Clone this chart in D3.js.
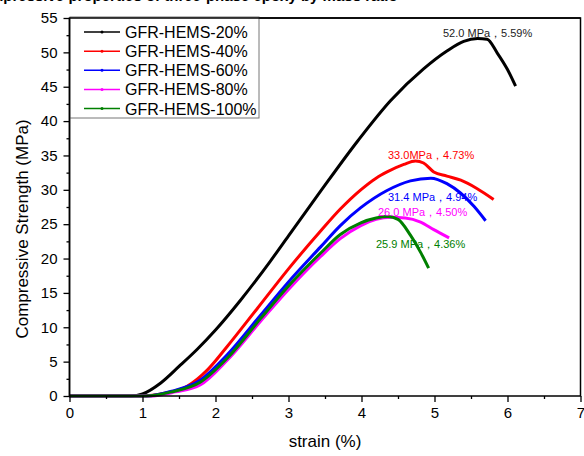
<!DOCTYPE html>
<html><head><meta charset="utf-8">
<script src="https://cdn.jsdelivr.net/npm/d3@7"></script>
<style>body{margin:0;background:#fff}svg{display:block}text{font-family:"Liberation Sans",Arial,sans-serif}</style>
</head><body>
<svg id="c" width="584" height="456"></svg>
<script>
// ---- data ----
const seriesNames = ["GFR-HEMS-20%","GFR-HEMS-40%","GFR-HEMS-60%","GFR-HEMS-80%","GFR-HEMS-100%"];
const seriesColors = ["#000000","#ff0000","#0000ff","#ff00ff","#008000"];
const strain20 = [0,0.85,1.0,1.25,1.5,1.75,2.0,2.34,2.75,3.0,3.44,3.94,4.4,4.85,5.17,5.4,5.59,5.72,5.86,6.0,6.11];
const stress20 = [0,0,0.3,1.9,4.3,6.8,9.6,13.9,19.6,23.3,29.8,37.0,43.0,47.6,50.2,51.6,52.0,51.9,49.9,47.5,45.1];
const strain40 = [0,1.0,1.3,1.61,1.89,2.16,2.57,3.0,3.44,3.71,3.99,4.2,4.35,4.58,4.74,4.85,4.99,5.17,5.36,5.58,5.81];
const stress40 = [0,0,0.4,1.4,3.8,7.2,12.7,18.5,24.0,27.2,30.0,31.7,32.6,33.7,34.2,33.9,32.6,32.0,31.4,30.2,28.6];
const strain60 = [0,1.05,1.4,1.79,2.16,2.62,3.0,3.44,3.71,3.99,4.35,4.67,4.95,5.17,5.36,5.54,5.70];
const stress60 = [0,0,0.7,2.3,6.0,11.8,16.6,21.7,24.8,27.4,29.9,31.3,31.7,30.9,29.5,27.6,25.5];
const strain80 = [0,1.1,1.45,1.79,2.16,2.62,3.0,3.44,3.71,3.99,4.2,4.4,4.6,4.81,4.99,5.20];
const stress80 = [0,0,0.6,1.6,5.2,10.9,15.5,20.3,22.9,24.8,25.7,26.0,25.9,25.3,24.2,23.0];
const strain100 = [0,1.05,1.4,1.79,2.16,2.62,3.0,3.44,3.71,3.99,4.2,4.36,4.5,4.67,4.81,4.92];
const stress100 = [0,0,0.6,2.0,5.5,11.3,16.0,20.8,23.5,25.2,25.9,26.1,25.7,23.4,20.9,18.6];
const annotations = ["52.0 MPa，5.59%","33.0MPa，4.73%","31.4 MPa，4.94%","26.0 MPa，4.50%","25.9 MPa，4.36%"];
const xTicks = [0,1,2,3,4,5,6,7];
const yTicks = [0,5,10,15,20,25,30,35,40,45,50,55];
const titleText = "Compressive properties of three-phase epoxy by mass ratio";

const svg = d3.select("#c");
const x = d3.scaleLinear().domain([0,7]).range([69.5,580.5]);
const y = d3.scaleLinear().domain([0,55]).range([396,18]);

// partial title cut at top edge, as in the reference
svg.append("text").attr("x",-30).attr("y",1).attr("font-size",15).attr("font-weight","bold").text(titleText);

const series = [
  [strain20,stress20],[strain40,stress40],[strain60,stress60],[strain80,stress80],[strain100,stress100]
].map((p,i)=>({name:seriesNames[i],color:seriesColors[i],pts:p[0].map((s,j)=>[s,p[1][j]])}));

const line = d3.line().x(d=>x(d[0])).y(d=>y(d[1])).curve(d3.curveMonotoneX);
const g = svg.append("g");
series.forEach(s=>{
  g.append("path").attr("d",line(s.pts)).attr("fill","none").attr("stroke",s.color).attr("stroke-width",3).attr("stroke-linejoin","round");
});

// frame
svg.append("rect").attr("x",x(0)).attr("y",y(55)).attr("width",x(7)-x(0)).attr("height",y(0)-y(55))
  .attr("fill","none").attr("stroke","#000").attr("stroke-width",1.5);

// axes
const xAx = svg.append("g").attr("transform",`translate(0,${y(0)})`)
  .call(d3.axisBottom(x).tickValues(xTicks).tickFormat(d3.format("d")).tickSize(6).tickPadding(5));
const xMin = svg.append("g").attr("transform",`translate(0,${y(0)})`)
  .call(d3.axisBottom(x).tickValues(d3.range(0.5,7,1)).tickFormat("").tickSize(3));
const yAx = svg.append("g").attr("transform",`translate(${x(0)},0)`)
  .call(d3.axisLeft(y).tickValues(yTicks).tickFormat(d3.format("d")).tickSize(6).tickPadding(6));
const yMin = svg.append("g").attr("transform",`translate(${x(0)},0)`)
  .call(d3.axisLeft(y).tickValues(d3.range(2.5,55,5)).tickFormat("").tickSize(3));
[xAx,xMin,yAx,yMin].forEach(a=>{
  a.select(".domain").remove();
  a.selectAll("line").attr("stroke","#000").attr("stroke-width",1.3);
  a.selectAll("text").attr("font-size",15).attr("fill","#000").style("font-family","Liberation Sans, Arial, sans-serif");
});

// axis titles
svg.append("text").attr("x",x(3.5)).attr("y",447).attr("text-anchor","middle").attr("font-size",17).text("strain (%)");
svg.append("text").attr("transform","translate(28,229) rotate(-90)").attr("text-anchor","middle").attr("font-size",17).text("Compressive Strength (MPa)");

// annotations
const annPos = [[443,37],[388,159],[388,201],[378,216],[376,248]];
annotations.forEach((t,i)=>{
  svg.append("text").attr("x",annPos[i][0]).attr("y",annPos[i][1]).attr("font-size",11)
    .attr("fill",i===0?"#222":seriesColors[i]).text(t);
});

// legend
const lg = svg.append("g");
lg.append("rect").attr("x",70).attr("y",17).attr("width",189).attr("height",101).attr("fill","#fff").attr("stroke","#777").attr("stroke-width",1);
series.forEach((s,i)=>{
  const cy = 32 + i*19.15;
  lg.append("line").attr("x1",84).attr("x2",120).attr("y1",cy).attr("y2",cy).attr("stroke",s.color).attr("stroke-width",1.5);
  lg.append("circle").attr("cx",102).attr("cy",cy).attr("r",1.5).attr("fill",s.color);
  lg.append("text").attr("x",125).attr("y",cy+6).attr("font-size",16).text(s.name);
});
// redraw frame edges over legend
svg.append("line").attr("x1",x(0)).attr("x2",x(7)).attr("y1",y(55)).attr("y2",y(55)).attr("stroke","#000").attr("stroke-width",1.5);
svg.append("line").attr("x1",x(0)).attr("x2",x(0)).attr("y1",y(55)).attr("y2",y(0)).attr("stroke","#000").attr("stroke-width",1.5);
</script>
</body></html>
